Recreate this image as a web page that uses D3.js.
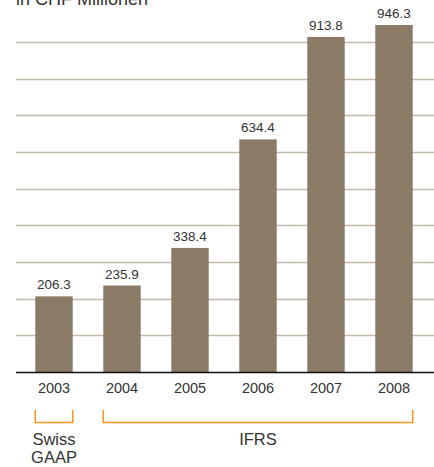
<!DOCTYPE html>
<html>
<head>
<meta charset="utf-8">
<script src="https://cdn.jsdelivr.net/npm/d3@7"></script>
<style>
	body { margin: 0; background: #fff; }
	text { font-family: "Liberation Sans", Arial, sans-serif; fill: #333; }
</style>
</head>
<body>
<div id="svg-div"></div>
<script>
// data
var years = ["2003", "2004", "2005", "2006", "2007", "2008"];
var values = [206.3, 235.9, 338.4, 634.4, 913.8, 946.3];
var gridTicks = [100, 200, 300, 400, 500, 600, 700, 800, 900];
var groups = [
	{ label: ["Swiss", "GAAP"], from: "2003", to: "2003" },
	{ label: ["IFRS"], from: "2004", to: "2008" }
];

var width = 434, height = 467;
var baseY = 372;

var svg = d3.select("#svg-div")
	.append("svg")
	.attr("width", width)
	.attr("height", height);

// Scale
var xScale = d3.scaleBand()
	.domain(years)
	.range([20, 428])
	.paddingInner(0.45)
	.paddingOuter(0.225);

var yScale = d3.scaleLinear()
	.domain([0, 900])
	.range([baseY, 42]);

// title (cut off at the top, as in the original)
svg.append("text")
	.attr("x", 16)
	.attr("y", 5)
	.style("font-size", "18px")
	.text("in CHF Millionen");

// Gridlines
svg.append("g")
	.selectAll("line")
	.data(gridTicks)
	.enter()
	.append("line")
	.attr("x1", 16)
	.attr("x2", width)
	.attr("y1", function(d) { return Math.round(yScale(d)) + 0.5; })
	.attr("y2", function(d) { return Math.round(yScale(d)) + 0.5; })
	.attr("stroke", "#c4b8ab")
	.attr("stroke-width", 1.5);

// Bars
svg.append("g")
	.selectAll("rect")
	.data(values)
	.enter()
	.append("rect")
	.attr("x", function(d, i) { return xScale(years[i]); })
	.attr("y", function(d) { return yScale(d); })
	.attr("width", xScale.bandwidth())
	.attr("height", function(d) { return baseY - yScale(d); })
	.attr("fill", "#8b7a66");

// value labels
svg.append("g")
	.selectAll("text")
	.data(values)
	.enter()
	.append("text")
	.attr("x", function(d, i) { return xScale(years[i]) + xScale.bandwidth() / 2; })
	.attr("y", function(d) { return yScale(d) - 7; })
	.attr("text-anchor", "middle")
	.style("font-size", "13.5px")
	.text(function(d) { return d.toFixed(1); });

// baseline
svg.append("line")
	.attr("x1", 16)
	.attr("x2", width)
	.attr("y1", baseY + 0.5)
	.attr("y2", baseY + 0.5)
	.attr("stroke", "#111")
	.attr("stroke-width", 1.5);

// x axis labels
var xAxis = d3.axisBottom(xScale).tickSize(0).tickPadding(0);
var xg = svg.append("g")
	.attr("transform", "translate(0," + (baseY + 11) + ")")
	.call(xAxis);
xg.select(".domain").remove();
xg.selectAll("text")
	.style("font-size", "14.5px")
	.style("font-family", "'Liberation Sans', Arial, sans-serif")
	.attr("fill", "#333");

// group brackets
var bracketTop = 410, bracketBottom = 422.5;
var bg = svg.append("g");
groups.forEach(function(g) {
	var x1 = xScale(g.from);
	var x2 = xScale(g.to) + xScale.bandwidth();
	bg.append("path")
		.attr("d", "M" + x1 + "," + bracketTop + "V" + bracketBottom + "H" + x2 + "V" + bracketTop)
		.attr("fill", "none")
		.attr("stroke", "#f7941d")
		.attr("stroke-width", 1.5);
	g.label.forEach(function(t, j) {
		bg.append("text")
			.attr("x", (x1 + x2) / 2)
			.attr("y", 445 + j * 18)
			.attr("text-anchor", "middle")
			.style("font-size", "16.5px")
			.text(t);
	});
});
</script>
</body>
</html>
